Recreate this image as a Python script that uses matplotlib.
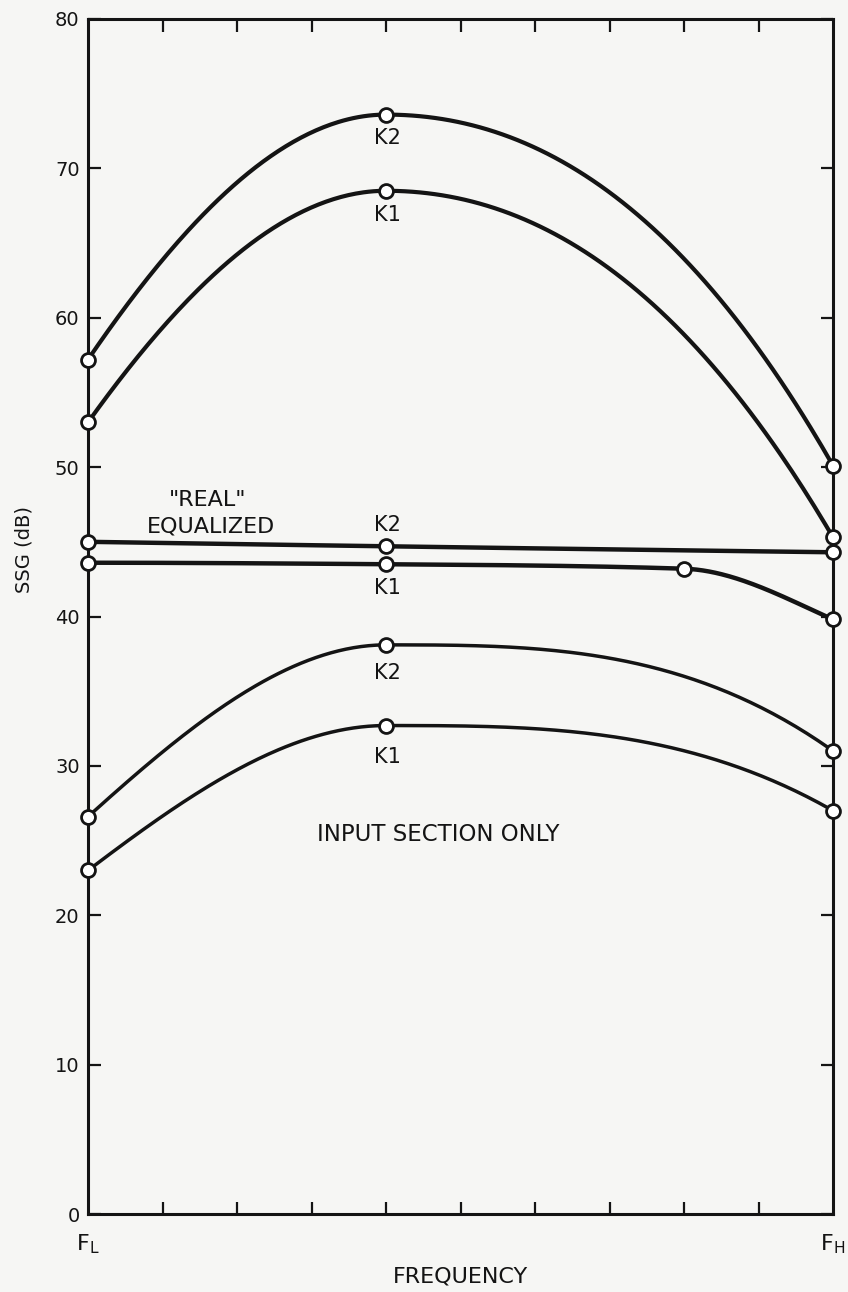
import numpy as np
import matplotlib
matplotlib.use("Agg")
import matplotlib.pyplot as plt

# Frequency positions (FL = 0, FH = 10) and SSG values in dB
freq = [0, 4, 10]
real_k2 = [57.2, 73.6, 50.1]
real_k1 = [53.0, 68.5, 45.3]
eq_k2 = [45.0, 44.7, 44.3]
eq_k1_freq = [0, 4, 8, 10]
eq_k1 = [43.6, 43.5, 43.2, 39.8]
input_k2 = [26.6, 38.1, 31.0]
input_k1 = [23.0, 32.7, 27.0]

y_ticks = [0, 10, 20, 30, 40, 50, 60, 70, 80]
x_minor = [1, 2, 3, 4, 5, 6, 7, 8, 9]

INK = "#141414"
PAPER = "#f6f6f4"

plt.rcParams["font.family"] = ["DejaVu Sans"]
plt.rcParams["mathtext.default"] = "regular"


def _end_slope(h0, h1, d0, d1):
    d = ((2 * h0 + h1) * d0 - h0 * d1) / (h0 + h1)
    if np.sign(d) != np.sign(d0):
        return 0.0
    if np.sign(d0) != np.sign(d1) and abs(d) > abs(3 * d0):
        return 3 * d0
    return d


def smooth(x, y, n=120):
    # monotone piecewise cubic through the measured points
    x = np.asarray(x, float)
    y = np.asarray(y, float)
    h = np.diff(x)
    delta = np.diff(y) / h
    d = np.zeros_like(y)
    for k in range(1, len(x) - 1):
        if delta[k - 1] * delta[k] > 0:
            w1 = 2 * h[k] + h[k - 1]
            w2 = h[k] + 2 * h[k - 1]
            d[k] = (w1 + w2) / (w1 / delta[k - 1] + w2 / delta[k])
    d[0] = _end_slope(h[0], h[1], delta[0], delta[1])
    d[-1] = _end_slope(h[-1], h[-2], delta[-1], delta[-2])
    xs, ys = [], []
    t = np.linspace(0, 1, n)
    for k in range(len(h)):
        h00 = 2 * t**3 - 3 * t**2 + 1
        h10 = t**3 - 2 * t**2 + t
        h01 = -2 * t**3 + 3 * t**2
        h11 = t**3 - t**2
        xs.append(x[k] + t * h[k])
        ys.append(h00 * y[k] + h10 * h[k] * d[k] + h01 * y[k + 1] + h11 * h[k] * d[k + 1])
    return np.concatenate(xs), np.concatenate(ys)


fig = plt.figure(figsize=(8.48, 12.92), dpi=100, facecolor=PAPER)
ax = fig.add_axes([88 / 848, 78 / 1292, 745 / 848, 1195 / 1292])
ax.set_facecolor(PAPER)

series = [
    (freq, real_k2, 3.0),
    (freq, real_k1, 3.0),
    (freq, eq_k2, 3.2),
    (eq_k1_freq, eq_k1, 3.2),
    (freq, input_k2, 2.5),
    (freq, input_k1, 2.5),
]
for xs, ys, lw in series:
    cx, cy = smooth(xs, ys)
    ax.plot(cx, cy, color=INK, lw=lw, solid_capstyle="round", zorder=2)
    ax.plot(xs, ys, "o", ms=10, mfc="white", mec=INK, mew=2.0,
            clip_on=False, zorder=4)

# curve labels under / over the mid-band points
def k_label(text, x, y, dy_px):
    ax.annotate(text, (x, y), xytext=(1, dy_px * 0.72), textcoords="offset points",
                ha="center", va="center", fontsize=15, color=INK)

k_label("K2", freq[1], real_k2[1], -23)
k_label("K1", freq[1], real_k1[1], -24)
k_label("K2", freq[1], eq_k2[1], 21)
k_label("K1", eq_k1_freq[1], eq_k1[1], -24)
k_label("K2", freq[1], input_k2[1], -28)
k_label("K1", freq[1], input_k1[1], -31)

ax.text(1.6, 47.8, '"REAL"', ha="center", va="center", fontsize=16, color=INK)
ax.text(1.65, 46.05, "EQUALIZED", ha="center", va="center", fontsize=16, color=INK)
ax.text(4.7, 25.4, "INPUT SECTION ONLY", ha="center", va="center", fontsize=16.5, color=INK)

ax.set_xlim(0, 10)
ax.set_ylim(0, 80)

for side in ax.spines.values():
    side.set_linewidth(2.2)
    side.set_color(INK)

ax.set_yticks(y_ticks)
ax.set_yticklabels([str(v) for v in y_ticks])
ax.tick_params(axis="y", which="major", direction="in", length=9, width=1.6,
               left=True, right=True, pad=6, labelsize=14, colors=INK)

ax.set_xticks([0, 10])
ax.set_xticklabels([r"F$_{L}$", r"F$_{H}$"])
ax.set_xticks(x_minor, minor=True)
ax.tick_params(axis="x", which="major", length=0, pad=13, labelsize=16, colors=INK)
ax.tick_params(axis="x", which="minor", direction="in", length=9, width=1.6,
               bottom=True, top=True, colors=INK)

ax.set_xlabel("FREQUENCY", fontsize=16, color=INK)
ax.xaxis.set_label_coords(0.5, -0.052)
ax.xaxis.label.set_va("center")
ax.set_ylabel("SSG (dB)", fontsize=14, color=INK)
ax.yaxis.set_label_coords(-0.086, 0.556)
ax.yaxis.label.set_va("center")

fig.savefig("out.png", dpi=100, facecolor=PAPER)
